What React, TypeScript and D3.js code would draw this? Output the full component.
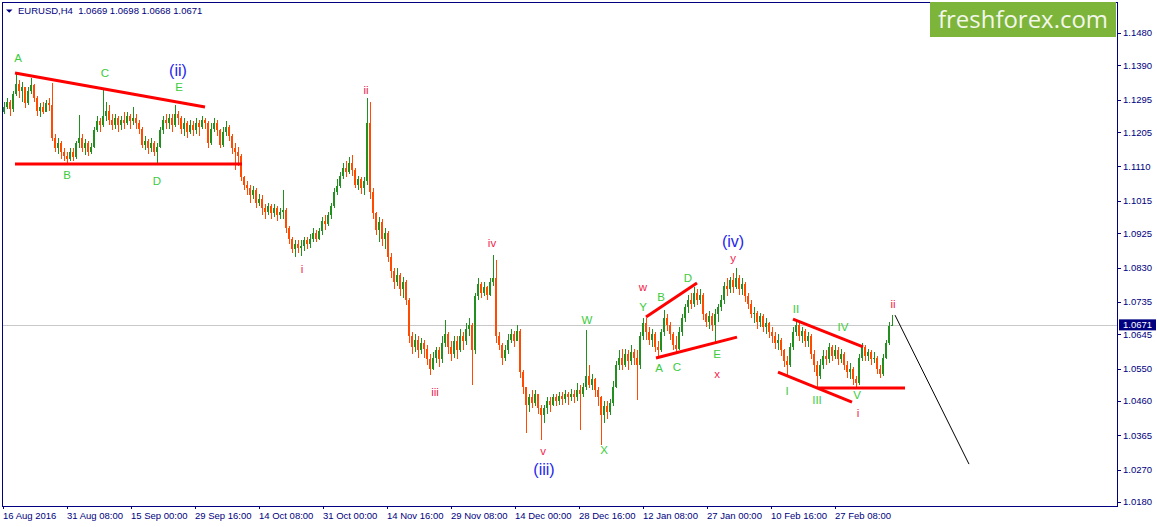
import React from "react";
import * as d3 from "d3";

const WIDTH = 1157;
const HEIGHT = 527;
const PLOT = { left: 3, top: 3, right: 1117, bottom: 506 };

// EURUSD H4, every candle here stands for 3 source bars; prices in points (x 1e-4)
const BARS_PER_CANDLE = 3;
const firstOpen = 11262;
const closes = [
  11275, 11290, 11268, 11310, 11340, 11318, 11330, 11285, 11320, 11335,
  11300, 11265, 11275, 11262, 11285, 11280, 11190, 11160, 11175, 11150,
  11140, 11130, 11150, 11135, 11175, 11190, 11160, 11175, 11150, 11165,
  11210, 11235, 11225, 11250, 11265, 11240, 11225, 11245, 11225, 11240,
  11230, 11250, 11235, 11245, 11230, 11215, 11170, 11180, 11160, 11175,
  11150, 11165, 11210, 11240, 11230, 11245, 11225, 11255, 11245, 11215,
  11230, 11205, 11225, 11210, 11230, 11220, 11240, 11230, 11175, 11215,
  11230, 11210, 11170, 11205, 11220, 11195, 11160, 11150, 11140, 11080,
  11060, 11050, 11030, 11045, 11010, 11020, 10995, 10985, 11000, 10980,
  10995, 10975, 10985, 10990, 10940, 10910, 10880, 10895, 10885, 10890,
  10905, 10895, 10910, 10925, 10910, 10930, 10960, 10950, 10975, 11000,
  11040, 11055, 11085, 11105, 11095, 11120, 11100, 11060, 11075, 11050,
  11070, 11230, 11040, 10980, 10935, 10955, 10910, 10925, 10860, 10820,
  10790, 10810, 10770, 10790, 10740, 10640, 10610, 10630, 10600, 10620,
  10605, 10575, 10550, 10580, 10600, 10575, 10620, 10645, 10610, 10590,
  10625, 10600, 10640, 10625, 10660, 10670, 10600, 10750, 10785, 10760,
  10775, 10755, 10790, 10800, 10640, 10615, 10580, 10600, 10630, 10645,
  10625, 10655, 10540, 10500, 10450, 10470, 10455, 10480, 10440, 10420,
  10440, 10460, 10450, 10470, 10460, 10475, 10465, 10478, 10470, 10480,
  10470, 10490, 10480, 10500, 10530, 10505, 10520, 10490, 10470, 10420,
  10445, 10430, 10455, 10500, 10560, 10580, 10560, 10590, 10570, 10595,
  10580, 10560, 10640, 10675, 10650, 10630, 10645, 10610, 10600, 10650,
  10690, 10670, 10645, 10615, 10605, 10650, 10690, 10720, 10740, 10730,
  10760, 10740, 10755, 10700, 10680, 10695, 10670, 10700, 10720, 10740,
  10780, 10770, 10795, 10775, 10800, 10770, 10785, 10750, 10730, 10700,
  10705, 10680, 10695, 10665, 10675, 10650, 10640, 10620, 10630, 10600,
  10570, 10560, 10610, 10650, 10670, 10640, 10655, 10625, 10640, 10590,
  10560, 10530, 10560, 10585, 10575, 10610, 10585, 10600, 10575, 10590,
  10560, 10540, 10550, 10520, 10510, 10580, 10610, 10585, 10595, 10575,
  10580, 10550, 10535, 10580, 10620, 10669, 10671,
];
const highs = [
  11290, 11300, 11295, 11318, 11369, 11350, 11345, 11330, 11330, 11355,
  11340, 11305, 11285, 11290, 11295, 11300, 11341, 11200, 11190, 11180,
  11160, 11150, 11160, 11160, 11180, 11253, 11200, 11185, 11180, 11175,
  11220, 11250, 11245, 11328, 11290, 11280, 11255, 11255, 11250, 11250,
  11260, 11262, 11255, 11275, 11255, 11240, 11220, 11195, 11185, 11190,
  11180, 11175, 11220, 11250, 11255, 11255, 11255, 11280, 11265, 11250,
  11245, 11235, 11240, 11235, 11245, 11240, 11250, 11245, 11235, 11230,
  11245, 11240, 11215, 11220, 11235, 11225, 11200, 11175, 11165, 11145,
  11085, 11070, 11060, 11055, 11050, 11035, 11030, 11005, 11010, 11005,
  11005, 11000, 10995, 11045, 10995, 10945, 10915, 10905, 10905, 10905,
  10915, 10915, 10922, 10940, 10935, 10940, 10970, 10975, 10985, 11010,
  11050, 11075, 11095, 11120, 11125, 11135, 11142, 11105, 11085, 11080,
  11080, 11300, 11290, 11050, 10985, 10970, 10965, 10940, 10930, 10870,
  10830, 10830, 10815, 10805, 10795, 10745, 10650, 10645, 10640, 10635,
  10630, 10615, 10590, 10595, 10610, 10610, 10640, 10684, 10650, 10625,
  10640, 10640, 10660, 10650, 10675, 10690, 10675, 10760, 10800, 10790,
  10790, 10780, 10800, 10865, 10850, 10650, 10620, 10615, 10645, 10660,
  10655, 10670, 10660, 10545, 10500, 10480, 10490, 10490, 10480, 10450,
  10450, 10470, 10470, 10480, 10480, 10485, 10485, 10490, 10485, 10492,
  10490, 10510, 10505, 10510, 10657, 10560, 10535, 10525, 10500, 10475,
  10460, 10460, 10465, 10515, 10570, 10600, 10605, 10605, 10600, 10615,
  10605, 10600, 10650, 10690, 10690, 10665, 10660, 10650, 10625, 10660,
  10712, 10700, 10680, 10650, 10640, 10665, 10700, 10730, 10755, 10760,
  10775, 10770, 10770, 10760, 10705, 10710, 10705, 10715, 10730, 10755,
  10790, 10800, 10805, 10815, 10829, 10810, 10800, 10790, 10760, 10740,
  10720, 10710, 10705, 10700, 10690, 10680, 10665, 10650, 10645, 10635,
  10605, 10585, 10620, 10665, 10684, 10680, 10665, 10660, 10650, 10645,
  10600, 10570, 10575, 10600, 10600, 10620, 10615, 10615, 10610, 10605,
  10595, 10570, 10565, 10555, 10530, 10590, 10620, 10615, 10605, 10600,
  10595, 10585, 10560, 10590, 10630, 10680, 10698,
];
const lows = [
  11255, 11268, 11250, 11262, 11305, 11300, 11290, 11272, 11280, 11310,
  11290, 11250, 11247, 11255, 11260, 11265, 11180, 11150, 11145, 11132,
  11125, 11120, 11125, 11125, 11130, 11160, 11150, 11142, 11140, 11145,
  11160, 11205, 11205, 11220, 11235, 11225, 11210, 11215, 11205, 11210,
  11215, 11225, 11215, 11225, 11215, 11200, 11160, 11155, 11145, 11150,
  11140, 11120, 11160, 11200, 11215, 11215, 11205, 11220, 11225, 11200,
  11195, 11190, 11200, 11195, 11200, 11195, 11215, 11215, 11160, 11170,
  11205, 11195, 11160, 11165, 11195, 11180, 11145, 11100, 11110, 11070,
  11045, 11030, 11010, 11020, 10995, 11000, 10975, 10965, 10975, 10965,
  10970, 10960, 10965, 10965, 10925, 10895, 10870, 10860, 10870, 10862,
  10875, 10880, 10885, 10900, 10900, 10905, 10920, 10935, 10945, 10965,
  10995, 11030, 11050, 11075, 11080, 11090, 11085, 11050, 11045, 11035,
  11030, 11060, 11020, 10965, 10920, 10900, 10890, 10880, 10845, 10800,
  10770, 10780, 10750, 10745, 10725, 10620, 10590, 10595, 10580, 10590,
  10580, 10560, 10532, 10545, 10565, 10555, 10565, 10610, 10590, 10570,
  10580, 10575, 10595, 10600, 10615, 10640, 10504, 10590, 10740, 10745,
  10750, 10740, 10750, 10780, 10620, 10600, 10560, 10570, 10590, 10620,
  10610, 10625, 10525, 10480, 10370, 10430, 10440, 10445, 10425, 10352,
  10400, 10425, 10430, 10445, 10445, 10450, 10450, 10455, 10450, 10460,
  10455, 10460, 10380, 10470, 10490, 10495, 10490, 10470, 10445, 10338,
  10400, 10410, 10420, 10445, 10495, 10545, 10545, 10555, 10545, 10560,
  10560, 10463, 10550, 10630, 10630, 10615, 10610, 10595, 10580, 10595,
  10640, 10655, 10630, 10600, 10590, 10600, 10640, 10680, 10705, 10715,
  10720, 10725, 10730, 10685, 10665, 10660, 10655, 10624, 10680, 10710,
  10730, 10750, 10760, 10760, 10770, 10755, 10755, 10735, 10715, 10690,
  10675, 10660, 10665, 10650, 10645, 10635, 10620, 10605, 10600, 10585,
  10555, 10527, 10555, 10600, 10640, 10625, 10620, 10610, 10610, 10575,
  10540, 10499, 10520, 10550, 10560, 10565, 10570, 10575, 10560, 10565,
  10545, 10525, 10520, 10505, 10496, 10505, 10570, 10570, 10570, 10560,
  10565, 10535, 10524, 10530, 10575, 10615, 10668,
];

const priceTicks = [
  1.148, 1.139, 1.1295, 1.1205, 1.111, 1.1015, 1.0925, 1.083, 1.0735,
  1.0645, 1.055, 1.046, 1.0365, 1.027, 1.018,
];
const lastPrice = 1.0671;

const timeLabels = [
  "16 Aug 2016", "31 Aug 08:00", "15 Sep 00:00", "29 Sep 16:00",
  "14 Oct 08:00", "31 Oct 00:00", "14 Nov 16:00", "29 Nov 08:00",
  "14 Dec 00:00", "28 Dec 16:00", "12 Jan 08:00", "27 Jan 00:00",
  "10 Feb 16:00", "27 Feb 08:00",
];
const timeBars = [0, 64, 128, 192, 256, 320, 384, 448, 512, 576, 640, 704, 768, 832];

// wave marks: text, source bar, price, colour group
const waveLabels: [string, number, number, string][] = [
  ["A", 15, 1.1411, "g"], ["B", 64, 1.1086, "g"], ["C", 102, 1.1369, "g"],
  ["D", 154, 1.107, "g"], ["E", 176, 1.133, "g"], ["(ii)", 175, 1.1377, "b"],
  ["i", 299, 1.0826, "r"], ["ii", 363, 1.1322, "r"], ["iii", 432, 1.0485, "r"],
  ["iv", 489, 1.0898, "r"], ["v", 540, 1.0321, "r"], ["(iii)", 541, 1.0272, "b"],
  ["W", 584, 1.0685, "g"], ["X", 601, 1.0324, "g"], ["Y", 640, 1.0721, "g"],
  ["w", 640, 1.0776, "r"], ["A", 656, 1.0552, "g"], ["B", 658, 1.0748, "g"],
  ["C", 674, 1.0554, "g"], ["D", 685, 1.0801, "g"], ["E", 714, 1.059, "g"],
  ["x", 714, 1.0535, "r"], ["y", 730, 1.0856, "r"], ["(iv)", 730, 1.0904, "b"],
  ["I", 784, 1.0488, "g"], ["II", 793, 1.0715, "g"], ["III", 814, 1.0463, "g"],
  ["IV", 840, 1.0665, "g"], ["V", 854, 1.0477, "g"], ["i", 855, 1.0427, "r"],
  ["ii", 890, 1.0729, "r"],
];

// bar1, price1, bar2, price2
const trendLines = [
  [12, 1.1369, 202, 1.1275],
  [12, 1.1117, 239, 1.1117],
  [643, 1.0693, 694, 1.0787],
  [653, 1.0579, 734, 1.0637],
  [790, 1.0687, 860, 1.061],
  [775, 1.054, 849, 1.0457],
  [815, 1.0496, 902, 1.0496],
];
const forecast = [892, 1.0698, 966, 1.0285];

const LABEL_COLORS: Record<string, string> = { g: "#3ccc3c", r: "#f01e4b", b: "#1e1ef0" };
const NAVY = "#000080";
const FONT = "'Liberation Sans', Arial, sans-serif";

const App = () => {
  const x = d3.scaleLinear().domain([0, 1114]).range([PLOT.left, PLOT.right]);
  const y = d3.scaleLinear().domain([1.018, 1.148]).range([502, 33]);

  const candles = closes.map((c, i) => {
    const open = i === 0 ? firstOpen : closes[i - 1];
    return {
      open: open / 1e4,
      close: c / 1e4,
      high: highs[i] / 1e4,
      low: lows[i] / 1e4,
      bar: i * BARS_PER_CANDLE + 1,
    };
  });

  const candleColor = (d: { open: number; close: number }) =>
    d.close > d.open ? "#22901e" : d.close < d.open ? "#ff4a00" : "#000000";

  return (
    <svg
      width={WIDTH}
      height={HEIGHT}
      style={{ position: "absolute", left: 0, top: 0, background: "#ffffff" }}
      fontFamily={FONT}
    >
      <defs>
        <clipPath id="plot">
          <rect x={PLOT.left} y={PLOT.top} width={PLOT.right - PLOT.left} height={PLOT.bottom - PLOT.top} />
        </clipPath>
      </defs>
      <rect width={WIDTH} height={HEIGHT} fill="#ffffff" />

      <g clipPath="url(#plot)">
        <line
          x1={PLOT.left}
          x2={PLOT.right}
          y1={Math.round(y(lastPrice)) + 0.5}
          y2={Math.round(y(lastPrice)) + 0.5}
          stroke="#c8c8c8"
        />

        <g shapeRendering="crispEdges">
          {candles.map((d, i) => {
            const cx = Math.round(x(d.bar));
            const top = y(Math.max(d.open, d.close));
            const bottom = y(Math.min(d.open, d.close));
            const color = candleColor(d);
            return (
              <g key={i} fill={color}>
                <rect x={cx} y={y(d.high)} width={1} height={Math.max(1, y(d.low) - y(d.high))} />
                <rect x={cx - 1} y={top} width={2} height={Math.max(1, bottom - top)} />
              </g>
            );
          })}
        </g>

        {trendLines.map(([b1, p1, b2, p2], i) => (
          <line key={i} x1={x(b1)} y1={y(p1)} x2={x(b2)} y2={y(p2)} stroke="#ff0000" strokeWidth={3} />
        ))}
        <line
          x1={x(forecast[0])}
          y1={y(forecast[1])}
          x2={x(forecast[2])}
          y2={y(forecast[3])}
          stroke="#000000"
          strokeWidth={1}
        />

        {waveLabels.map(([t, b, p, g], i) => (
          <text
            key={i}
            x={x(b)}
            y={y(p)}
            dy="0.36em"
            textAnchor="middle"
            fontSize={g === "b" ? 16 : 11.5}
            fill={LABEL_COLORS[g]}
          >
            {t}
          </text>
        ))}
      </g>

      {/* frame */}
      <rect
        x={PLOT.left - 0.5}
        y={PLOT.top - 0.5}
        width={PLOT.right - PLOT.left + 1}
        height={PLOT.bottom - PLOT.top + 1}
        fill="none"
        stroke={NAVY}
        shapeRendering="crispEdges"
      />

      {/* price axis */}
      <g fill={NAVY} fontSize={9.5}>
        {priceTicks.map((p) => (
          <g key={p}>
            <line
              x1={PLOT.right}
              x2={PLOT.right + 4}
              y1={Math.round(y(p)) + 0.5}
              y2={Math.round(y(p)) + 0.5}
              stroke={NAVY}
            />
            <text x={PLOT.right + 6} y={y(p)} dy="0.35em">
              {p.toFixed(4)}
            </text>
          </g>
        ))}
        <rect x={PLOT.right + 2} y={y(lastPrice) - 5.5} width={37} height={11} fill={NAVY} />
        <text x={PLOT.right + 6} y={y(lastPrice)} dy="0.35em" fill="#ffffff">
          {lastPrice.toFixed(4)}
        </text>
      </g>

      {/* time axis */}
      <g fill={NAVY} fontSize={9.5}>
        {timeBars.map((b, i) => (
          <g key={b}>
            <line
              x1={Math.round(x(b)) + 0.5}
              x2={Math.round(x(b)) + 0.5}
              y1={PLOT.bottom}
              y2={PLOT.bottom + 3}
              stroke={NAVY}
            />
            <text x={x(b)} y={519}>
              {timeLabels[i]}
            </text>
          </g>
        ))}
      </g>

      {/* header */}
      <polygon points="6,9.5 12.5,9.5 9.25,12.8" fill={NAVY} />
      <text x={18} y={14} fontSize={9.5} fill={NAVY} xmlSpace="preserve">
        {"EURUSD,H4  1.0669 1.0698 1.0668 1.0671"}
      </text>

      {/* watermark */}
      <rect x={930} y={2} width={186} height={35} fill="#7db43a" />
      <text
        x={938}
        y={28}
        fontSize={24}
        fontFamily="'Open Sans', sans-serif"
        fill="#f2f7ea"
        textLength={170}
        lengthAdjust="spacingAndGlyphs"
      >
        freshforex.com
      </text>
    </svg>
  );
};

export default App;
